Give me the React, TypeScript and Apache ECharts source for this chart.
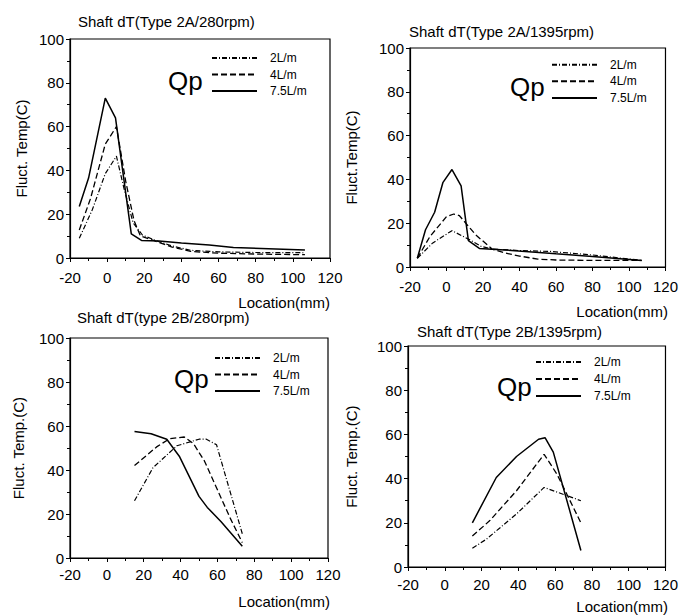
import React, { useEffect, useRef } from "react";
import * as echarts from "echarts";

// ---- tick labels / axes ----
const X_MIN = -20;
const X_MAX = 120;
const X_STEP = 20;
const Y_MIN = 0;
const Y_MAX = 100;
const Y_STEP = 20;

const SERIES_NAMES = ["2L/m", "4L/m", "7.5L/m"];
const TITLES = [
  "Shaft dT(Type 2A/280rpm)",
  "Shaft dT(Type 2A/1395rpm)",
  "Shaft dT(type 2B/280rpm)",
  "Shaft dT(Type 2B/1395rpm)",
];
const Y_NAMES = ["Fluct. Temp(C)", "Fluct.Temp(C)", "Fluct. Temp.(C)", "Fluct. Temp.(C)"];
const X_NAME = "Location(mm)";
const LEGEND_TITLE = "Qp";

// ---- Panel 1: Type 2A / 280 rpm ----
const p1_2_x = [-15, -8, -1, 5, 9, 14, 19, 26, 35, 45, 60, 80, 106.5];
const p1_2_y = [9, 22, 38.5, 46.5, 32, 16, 10.5, 8, 5.5, 3.5, 2.8, 2.5, 2.4];
const p1_4_x = [-15, -9, -1, 5, 10, 14.5, 18, 25, 35, 45, 60, 80, 106.5];
const p1_4_y = [12.8, 27, 52, 60, 35, 17, 10, 8, 5, 3, 2.2, 1.8, 1.5];
const p1_75_x = [-15, -10, -1, 4.5, 13, 18.5, 28, 40, 55, 68, 106.5];
const p1_75_y = [23.5, 36.5, 73, 64, 11, 8, 7.8, 6.8, 5.9, 4.8, 3.7];

// ---- Panel 2: Type 2A / 1395 rpm ----
const p2_2_x = [-16, -7.5, 3, 12.5, 19, 25, 40, 57, 80, 107];
const p2_2_y = [4, 11, 16.6, 12.5, 9.4, 8.2, 7.5, 7.1, 5.5, 3];
const p2_4_x = [-16, -9, 0, 4, 7, 16, 25, 32, 40, 50, 60, 80, 107];
const p2_4_y = [4, 14, 23, 24.2, 23.5, 14.7, 8.2, 6.4, 5, 3.6, 3.2, 3, 3];
const p2_75_x = [-16, -11.5, -6.5, -2, 3, 8, 12, 18, 32, 60, 80, 107];
const p2_75_y = [4, 17, 25, 38.5, 44.5, 37, 12, 8.5, 7.8, 6, 4.8, 3];

// ---- Panel 3: Type 2B / 280 rpm ----
const p3_2_x = [15, 25, 38, 50, 54, 59.5, 73.5];
const p3_2_y = [26, 41, 51, 54, 54, 51.5, 11];
const p3_4_x = [15, 27, 34, 42, 47, 53, 60, 67, 73.5];
const p3_4_y = [42, 50.5, 54.2, 55, 52, 44, 31, 18, 7];
const p3_75_x = [15, 24, 32.5, 39.5, 50, 54.5, 62, 73.5];
const p3_75_y = [57.5, 56.5, 54, 46, 28, 23, 16.5, 5.3];

// ---- Panel 4: Type 2B / 1395 rpm ----
const p4_2_x = [15, 22.5, 39, 54, 74];
const p4_2_y = [8.5, 12.5, 24, 36, 30];
const p4_4_x = [15, 24.5, 39, 54, 61, 74];
const p4_4_y = [14, 21, 34.5, 51, 42, 20];
const p4_75_x = [15, 28, 39, 51, 54.5, 59, 74];
const p4_75_y = [20, 40.5, 50, 57.8, 58.5, 52, 7.5];

const PANELS = [
  [[p1_2_x, p1_2_y], [p1_4_x, p1_4_y], [p1_75_x, p1_75_y]],
  [[p2_2_x, p2_2_y], [p2_4_x, p2_4_y], [p2_75_x, p2_75_y]],
  [[p3_2_x, p3_2_y], [p3_4_x, p3_4_y], [p3_75_x, p3_75_y]],
  [[p4_2_x, p4_2_y], [p4_4_x, p4_4_y], [p4_75_x, p4_75_y]],
];

// ---- layout (positions & styles) ----
const FONT = "'Liberation Sans', Arial, Helvetica, sans-serif";
const GRIDS = [
  { left: 70, top: 39, width: 260, height: 219 },
  { left: 410, top: 48, width: 258, height: 219 },
  { left: 70, top: 338, width: 258, height: 220 },
  { left: 408, top: 346, width: 259, height: 221 },
];
const TITLE_POS = [
  { left: 78, top: 14 },
  { left: 409, top: 24 },
  { left: 77, top: 310 },
  { left: 417, top: 324 },
];
const Y_NAME_GAP = [41, 51, 44, 49];
const X_LABEL_MARGIN = [12, 12, 9, 10];
const LEGEND_POS = [
  { left: 211, top: 52, gap: 4.5 },
  { left: 551, top: 58.7, gap: 4.6 },
  { left: 214, top: 352, gap: 4.5 },
  { left: 535, top: 356, gap: 5 },
];
const QP_POS = [
  { x: 168, y: 81 },
  { x: 510, y: 87 },
  { x: 174, y: 379 },
  { x: 497, y: 387 },
];
const XNAME_POS = [
  { x: 330, y: 302 },
  { x: 668, y: 311 },
  { x: 330, y: 601 },
  { x: 668, y: 606 },
];
const LINE_STYLES: any[] = [
  { type: [5, 2, 1, 2], width: 1.2 },
  { type: [6, 3], width: 1.3 },
  { type: "solid", width: 1.5 },
];

export default function App() {
  const ref = useRef<HTMLDivElement>(null);
  useEffect(() => {
    if (!ref.current) return;
    const chart = echarts.init(ref.current, undefined, { renderer: "svg" });
    const axisLine = { show: true, onZero: false, lineStyle: { color: "#000", width: 1.2 } };
    const xAxis = GRIDS.map((_, i) => ({
      type: "value",
      gridIndex: i,
      min: X_MIN,
      max: X_MAX,
      interval: X_STEP,
      axisLine,
      axisTick: { show: true, inside: false, length: 4, lineStyle: { color: "#000" } },
      minorTick: { show: true, splitNumber: 2, length: 3, lineStyle: { color: "#000" } },
      splitLine: { show: false },
      axisLabel: { color: "#000", fontSize: 15, fontFamily: FONT, margin: X_LABEL_MARGIN[i] },
    }));
    const yAxis = GRIDS.map((_, i) => ({
      type: "value",
      gridIndex: i,
      min: Y_MIN,
      max: Y_MAX,
      interval: Y_STEP,
      axisLine,
      axisTick: { show: true, inside: false, length: 4, lineStyle: { color: "#000" } },
      minorTick: { show: true, splitNumber: 2, length: 3, lineStyle: { color: "#000" } },
      splitLine: { show: false },
      axisLabel: { color: "#000", fontSize: 15, fontFamily: FONT, margin: 6 },
      name: Y_NAMES[i],
      nameLocation: "middle",
      nameGap: Y_NAME_GAP[i],
      nameTextStyle: { color: "#000", fontSize: 15, fontFamily: FONT },
    }));
    const series: any[] = [];
    PANELS.forEach((panel, i) => {
      panel.forEach(([xs, ys], k) => {
        series.push({
          type: "line",
          name: SERIES_NAMES[k],
          xAxisIndex: i,
          yAxisIndex: i,
          data: xs.map((x, j) => [x, ys[j]]),
          symbol: "none",
          lineStyle: { color: "#000", ...LINE_STYLES[k] },
          itemStyle: { color: "#000" },
          silent: true,
        });
      });
    });
    const graphic: any[] = [];
    QP_POS.forEach((p) =>
      graphic.push({
        type: "text",
        x: p.x,
        y: p.y,
        style: {
          text: LEGEND_TITLE,
          fontSize: 26,
          fontFamily: FONT,
          fill: "#000",
          textVerticalAlign: "middle",
        },
      })
    );
    XNAME_POS.forEach((p) =>
      graphic.push({
        type: "text",
        x: p.x,
        y: p.y,
        style: {
          text: X_NAME,
          fontSize: 15,
          fontFamily: FONT,
          fill: "#000",
          textAlign: "right",
          textVerticalAlign: "middle",
        },
      })
    );
    chart.setOption({
      animation: false,
      backgroundColor: "#fff",
      title: TITLES.map((t, i) => ({
        text: t,
        left: TITLE_POS[i].left,
        top: TITLE_POS[i].top,
        padding: 0,
        textStyle: { color: "#000", fontSize: 15, fontWeight: "normal", fontFamily: FONT },
      })),
      grid: GRIDS.map((g) => ({
        ...g,
        show: true,
        borderColor: "#000",
        borderWidth: 1.2,
        backgroundColor: "transparent",
        containLabel: false,
      })),
      legend: LEGEND_POS.map((l) => ({
        left: l.left,
        top: l.top,
        orient: "vertical",
        padding: 0,
        itemWidth: 45,
        itemHeight: 14,
        itemGap: l.gap,
        selectedMode: false,
        data: SERIES_NAMES,
        itemStyle: { color: "transparent", borderColor: "transparent", borderWidth: 0, opacity: 0 },
        textStyle: { color: "#000", fontSize: 12, fontFamily: FONT, padding: [0, 0, 0, 8] },
      })),
      xAxis,
      yAxis,
      series,
      graphic,
    });
    return () => chart.dispose();
  }, []);
  return (
    <div
      ref={ref}
      style={{ position: "absolute", left: 0, top: 0, width: 681, height: 615, background: "#fff" }}
    />
  );
}
